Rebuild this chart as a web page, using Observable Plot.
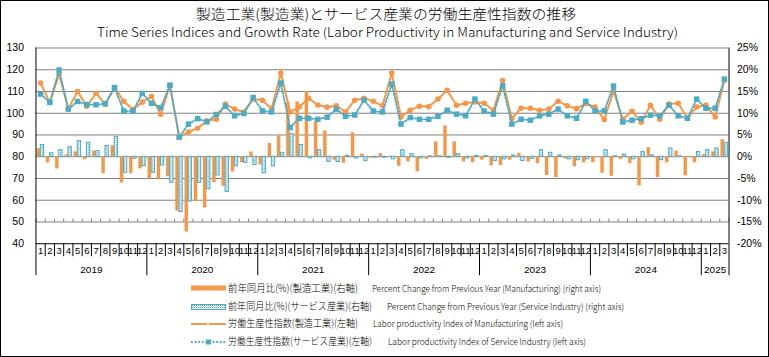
<!DOCTYPE html>
<html><head><meta charset="utf-8">
<script src="https://cdn.jsdelivr.net/npm/d3@7"></script>
<script src="https://cdn.jsdelivr.net/npm/@observablehq/plot@0.6"></script>
<style>
html,body{margin:0;padding:0;background:#fff;}
#frame{position:relative;width:769px;height:357px;box-sizing:border-box;border:1px solid #000;overflow:hidden;font-family:"Noto Sans CJK JP",sans-serif;color:#000;}
.fit{position:absolute;white-space:nowrap;line-height:1;font-weight:300;}
#chart{position:absolute;left:-1px;top:39px;}
.sw{position:absolute;left:189px;width:37px;height:8px;line-height:0;}
.sw svg{display:block;}
</style></head>
<body>
<div id="frame">
  <div class="fit" id="t1" data-w="380" data-cx="386" data-cy="13" style="font-size:14px">製造工業(製造業)とサービス産業の労働生産性指数の推移</div>
  <div class="fit" id="t2" data-w="581" data-cx="387" data-cy="32" style="font-size:12.5px">Time Series Indices and Growth Rate (Labor Productivity in Manufacturing and Service Industry)</div>
  <div id="chart"></div>
  <div id="legend"></div>
</div>
<script>
// ---- data ----
const monthLabels = ["1","2","3","4","5","6","7","8","9","10","11","12","1","2","3","4","5","6","7","8","9","10","11","12","1","2","3","4","5","6","7","8","9","10","11","12","1","2","3","4","5","6","7","8","9","10","11","12","1","2","3","4","5","6","7","8","9","10","11","12","1","2","3","4","5","6","7","8","9","10","11","12","1","2","3"];
const yearLabels = ["2019","2020","2021","2022","2023","2024","2025"];
const yearMonths = [12,12,12,12,12,12,3];
const mfgIndex = [113.9,104.9,118,102,110,103.2,109.2,104,111.8,105.5,101.7,105.1,
  107.7,99.5,112.9,89.1,91.4,93.1,96.5,97.2,104.2,101.9,100.6,106.5,
  106,102.1,118.5,100.6,102.9,106.9,103.8,102.8,103.4,100.6,106,106.9,
  105.5,103.4,118.5,98.3,101.4,103.2,103,106.5,110.6,103.7,104.6,105.2,
  104.6,101.4,115,97.5,102.3,102.3,101.4,101.9,105.5,103.4,102.1,104.4,
  102.9,97.1,110.3,97.2,100.9,95.8,103.7,97.2,104.2,104.6,97.7,102.9,
  103.8,98.3,115.2];
const svcIndex = [108.8,105,119.9,101.9,105.4,104,103.9,104.4,111.8,101,101,109.1,
  104.6,102.6,112.9,89,95,97.5,96,99.4,103.2,98.8,99.9,107.2,
  101.1,100.6,113.9,93.4,97.7,97.7,97.2,98.2,101.9,98.6,99.2,106,
  101,100.6,113.4,95,98,97.2,97.2,98.6,101.4,99.6,98.8,106.5,
  101,99.6,112.6,95,97.2,96.8,98.8,99.6,101.9,98.8,97.7,105.5,
  101.1,101.1,112.5,96,96.8,97.5,99.1,98.8,103.7,98.8,97.7,106.5,
  102.3,102.3,115.7];
const mfgPct = [1.85,-1.4,-2.8,0.4,1.1,-0.7,1.3,-3.9,2.5,-6,-3.9,-2.8,
  -5.1,-5.1,-4.6,-12.5,-17.3,-10.3,-11.8,-6,-6.8,-3.5,-1.4,1.1,
  -1.9,3.1,4.8,12.5,12.6,15,8.2,5.9,-0.8,-1.5,5.5,0.6,
  -0.4,0.7,0.1,-2.2,-1.2,-3.5,-0.6,3.4,7.1,3.4,-1.2,-1.4,
  -0.8,-2.1,-2,-0.8,0.8,-1.2,-1.6,-4.3,-4.8,-0.5,-2.3,-1.4,
  -1.4,-3.8,-4.5,-0.6,-1.6,-6.7,2.1,-4.8,-1.4,1.3,-4.4,-1.4,
  0.5,1.1,3.9];
const svcPct = [2.7,0.8,1.5,2.2,3.6,3.2,1.3,2.5,4.5,-3.7,-0.5,-2.2,
  -3.7,-2,-6,-12.7,-10.3,-6,-7.5,-4.3,-8.1,-2.2,-1.4,-1.9,
  -3.8,-2.2,0.9,5.2,2.7,-0.4,1.5,-1.2,-1.2,0.2,-0.4,-1,
  -0.2,-0.2,-0.6,1.5,0.6,-0.4,0.1,0.1,-0.2,0.6,-0.4,0.2,
  0.2,-1,-0.6,0.3,-1,-0.5,1.5,0.9,0.3,-0.6,-0.8,-0.6,
  0,1.5,0.1,0.5,-0.6,1.1,0.3,-0.8,1.9,0.1,0,1.1,
  1.5,1.9,3.2];
const leftTicks = [40,50,60,70,80,90,100,110,120,130];
const legendItems = [
  {jp:"前年同月比(%)(製造工業)(右軸)", en:"Percent Change from Previous Year (Manufacturing) (right axis)"},
  {jp:"前年同月比(%)(サービス産業)(右軸)", en:"Percent Change from Previous Year (Service Industry) (right axis)"},
  {jp:"労働生産性指数(製造工業)(左軸)", en:"Labor productivity Index of Manufacturing (left axis)"},
  {jp:"労働生産性指数(サービス産業)(左軸)", en:"Labor productivity Index of Service Industry (left axis)"}
];

const ORANGE = "#F79646", BLUE = "#4BACC6";
const N = monthLabels.length;
const toLeft = p => 80 + 2 * p;   // right axis (%) -> left axis units
const data = d3.range(N).map(i => ({i, mfg: mfgIndex[i], svc: svcIndex[i], mp: mfgPct[i], sp: svcPct[i]}));

const yearStarts = []; { let s = 0; for (const m of yearMonths) { yearStarts.push(s); s += m; } }
const yearBounds = [...yearStarts, N];
const monthBounds = d3.range(1, N).filter(k => !yearStarts.includes(k));
const yearCenters = yearStarts.map((s, j) => s + yearMonths[j] / 2);
const font = "Liberation Sans, Arial, sans-serif";

const chart = Plot.plot({
  width: 769, height: 241,
  marginLeft: 35.5, marginRight: 39.5, marginTop: 7.5, marginBottom: 37.5,
  style: {fontFamily: font, background: "transparent", overflow: "visible"},
  x: {domain: [0, N], axis: null},
  y: {domain: [40, 130], axis: null},
  marks: [
    Plot.ruleY(leftTicks.filter(v => v > 40), {stroke: "#808080", strokeWidth: 1}),
    Plot.ruleX(d3.range(0, N + 1), {y1: 50, y2: 51.4, stroke: "#808080"}),
    Plot.rectY(data, {x1: d => d.i + 0.13, x2: d => d.i + 0.5, y1: 80, y2: d => toLeft(d.mp), fill: ORANGE}),
    Plot.rectY(data, {x1: d => d.i + 0.52, x2: d => d.i + 0.88, y1: 80, y2: d => toLeft(d.sp), fill: "url(#svcPat)", stroke: BLUE, strokeWidth: 1}),
    Plot.line(data, {x: d => d.i + 0.5, y: "mfg", stroke: ORANGE, strokeWidth: 2}),
    Plot.dot(data, {x: d => d.i + 0.5, y: "mfg", r: 2.8, fill: ORANGE}),
    Plot.line(data, {x: d => d.i + 0.5, y: "svc", stroke: BLUE, strokeWidth: 1.8, strokeDasharray: "1.8,1.8"}),
    Plot.dot(data, {x: d => d.i + 0.5, y: "svc", symbol: "square", r: 3.1, fill: BLUE}),
    Plot.ruleY([40], {stroke: "#000"}),
    Plot.ruleX([0, N], {stroke: "#000"}),
    Plot.axisY(leftTicks, {anchor: "left", tickSize: 0, tickPadding: 12, fontSize: 10.5, tickFormat: d => String(d)}),
    Plot.axisY(leftTicks, {anchor: "right", tickSize: 0, tickPadding: 8, fontSize: 10.5, tickFormat: v => `${(v - 80) / 2}%`}),
    Plot.axisX(monthBounds, {anchor: "bottom", tickSize: 13, tickFormat: () => "", stroke: "#000"}),
    Plot.axisX(yearBounds, {anchor: "bottom", tickSize: 32, tickFormat: () => "", stroke: "#000"}),
    Plot.axisX(d3.range(N).map(i => i + 0.5), {anchor: "bottom", tickSize: 0, tickPadding: 4, fontSize: 9.5, tickFormat: v => monthLabels[Math.floor(v)]}),
    Plot.axisX(yearCenters, {anchor: "bottom", tickSize: 0, tickPadding: 22, fontSize: 10, tickFormat: v => yearLabels[yearCenters.indexOf(v)]})
  ]
});
const defs = d3.select(chart).insert("defs", ":first-child");
const pat = defs.append("pattern").attr("id", "svcPat").attr("patternUnits", "userSpaceOnUse").attr("width", 2).attr("height", 2);
pat.append("rect").attr("width", 2).attr("height", 2).attr("fill", "#fff");
pat.append("rect").attr("width", 1).attr("height", 1).attr("fill", BLUE);
pat.append("rect").attr("x", 1).attr("y", 1).attr("width", 1).attr("height", 1).attr("fill", BLUE).attr("opacity", 0.35);
document.getElementById("chart").appendChild(chart);

// ---- legend ----
const legend = document.getElementById("legend");
const rowsY = [288, 306.5, 323.5, 341.5];
const enX = [372, 387, 373, 388];
const jpW = [130, 144, 130, 144];
const enW = [229, 237, 190, 198];
const swatches = [
  `<svg width="37" height="8"><rect x="1" y="1.5" width="35" height="5" fill="${ORANGE}"/></svg>`,
  `<svg width="37" height="8"><rect x="1.5" y="1.5" width="34" height="5" fill="url(#svcPat)" stroke="${BLUE}" stroke-width="1"/></svg>`,
  `<svg width="37" height="8"><line x1="1" x2="36" y1="4" y2="4" stroke="${ORANGE}" stroke-width="2"/><rect x="17" y="3" width="2" height="2" fill="#fde0c8"/></svg>`,
  `<svg width="37" height="8"><line x1="1" x2="36" y1="4" y2="4" stroke="${BLUE}" stroke-width="1.8" stroke-dasharray="1.8,1.8"/><rect x="16" y="1.5" width="5" height="5" fill="${BLUE}"/></svg>`
];
legendItems.forEach((it, k) => {
  const sw = document.createElement("div");
  sw.className = "sw"; sw.style.top = (rowsY[k] - 1 - 4) + "px"; sw.innerHTML = swatches[k];
  legend.appendChild(sw);
  const a = document.createElement("div");
  a.className = "fit"; a.textContent = it.jp; a.style.fontSize = "10.5px";
  a.dataset.w = jpW[k]; a.dataset.x = 228; a.dataset.cy = rowsY[k];
  legend.appendChild(a);
  const b = document.createElement("div");
  b.className = "fit"; b.textContent = it.en; b.style.fontSize = "9px";
  b.dataset.w = enW[k]; b.dataset.x = enX[k]; b.dataset.cy = rowsY[k];
  legend.appendChild(b);
});

document.querySelectorAll(".fit").forEach(el => {
  const r = el.getBoundingClientRect();
  const target = +el.dataset.w;
  el.style.transformOrigin = "0 50%";
  el.style.transform = `scaleX(${target / r.width})`;
  const left = el.dataset.cx ? (+el.dataset.cx - target / 2) : +el.dataset.x;
  el.style.left = (left - 1) + "px";
  el.style.top = (+el.dataset.cy - 1 - r.height / 2) + "px";
});
</script>
</body></html>
